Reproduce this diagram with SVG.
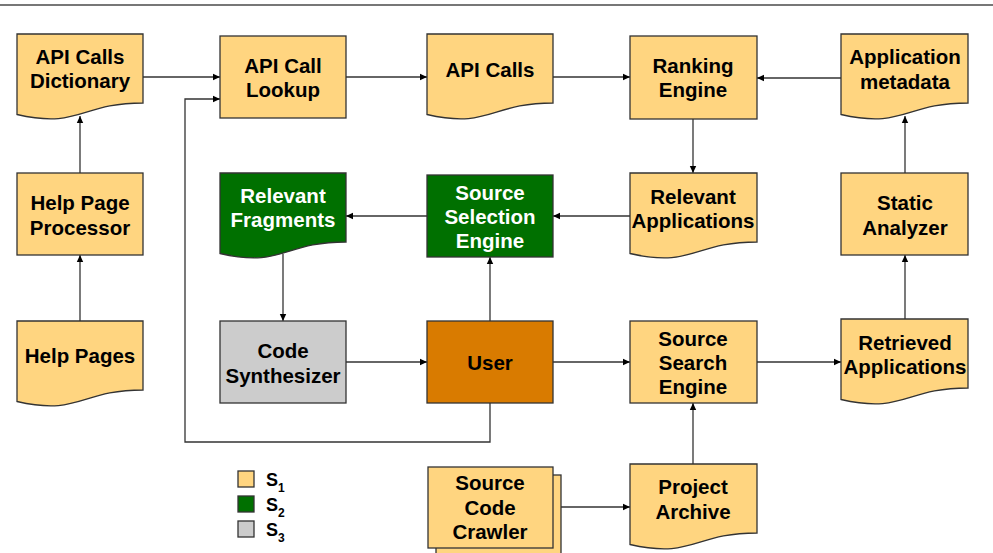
<svg xmlns="http://www.w3.org/2000/svg" width="993" height="553" viewBox="0 0 993 553">
<defs>
<marker id="ah" markerUnits="userSpaceOnUse" markerWidth="8" markerHeight="8" refX="7" refY="4" orient="auto">
<path d="M0,0.8 L7,4 L0,7.2 Z" fill="#000"/>
</marker>
</defs>
<style>
.y{fill:#FFD580;stroke:#333;stroke-width:1.3}
.g{fill:#007000;stroke:#333;stroke-width:1.3}
.o{fill:#D97B00;stroke:#333;stroke-width:1.3}
.s{fill:#CCCCCC;stroke:#333;stroke-width:1.3}
text{font-family:"Liberation Sans",Arial,sans-serif;font-weight:bold;font-size:20.5px;text-anchor:middle;fill:#000}
.w{fill:#fff}
.c{fill:none;stroke:#333;stroke-width:1.3;marker-end:url(#ah)}
.lg{text-anchor:start;font-size:18px}
.sub{font-size:12px}
</style>
<rect width="993" height="553" fill="#fff"/>
<line x1="0" y1="5" x2="993" y2="5" stroke="#777" stroke-width="2"/>

<g id="connectors">
<path class="c" d="M143,77 H220"/>
<path class="c" d="M490,403 V442 H185 V99 H220"/>
<path class="c" d="M80,173 V116"/>
<path class="c" d="M80,321 V255"/>
<path class="c" d="M346,77 H427"/>
<path class="c" d="M553,77 H630"/>
<path class="c" d="M841,78 H757"/>
<path class="c" d="M693,119 V173"/>
<path class="c" d="M630,216 H553"/>
<path class="c" d="M427,216 H346"/>
<path class="c" d="M283,254 V321"/>
<path class="c" d="M346,362 H427"/>
<path class="c" d="M490,321 V257"/>
<path class="c" d="M553,362 H630"/>
<path class="c" d="M757,362 H841"/>
<path class="c" d="M905,319 V255"/>
<path class="c" d="M905,173 V116"/>
<path class="c" d="M693,464 V403"/>
<path class="c" d="M553,507 H630"/>
</g>

<g id="api-calls-dictionary">
<path class="y" d="M17,34 H143 V103 C80,103 80,129 17,114.5 Z"/>
<text x="80" y="64">API Calls</text>
<text x="80" y="88">Dictionary</text>
</g>
<g id="api-call-lookup">
<rect class="y" x="220" y="36" width="126" height="82"/>
<text x="283" y="73">API Call</text>
<text x="283" y="97">Lookup</text>
</g>
<g id="api-calls">
<path class="y" d="M427,34 H553 V103 C490,103 490,129 427,114.5 Z"/>
<text x="490" y="77">API Calls</text>
</g>
<g id="ranking-engine">
<rect class="y" x="630" y="36" width="127" height="83"/>
<text x="693" y="73">Ranking</text>
<text x="693" y="97">Engine</text>
</g>
<g id="application-metadata">
<path class="y" d="M841,34 H968 V103 C904.5,103 904.5,129 841,114.5 Z"/>
<text x="905" y="64">Application</text>
<text x="905" y="89">metadata</text>
</g>
<g id="help-page-processor">
<rect class="y" x="17" y="173" width="126" height="82"/>
<text x="80" y="210">Help Page</text>
<text x="80" y="235">Processor</text>
</g>
<g id="relevant-fragments">
<path class="g" d="M220,173 H346 V242 C283,242 283,268 220,253.5 Z"/>
<text class="w" x="283" y="203">Relevant</text>
<text class="w" x="283" y="227">Fragments</text>
</g>
<g id="source-selection-engine">
<rect class="g" x="427" y="175" width="126" height="82"/>
<text class="w" x="490" y="200">Source</text>
<text class="w" x="490" y="224">Selection</text>
<text class="w" x="490" y="248">Engine</text>
</g>
<g id="relevant-applications">
<path class="y" d="M630,173 H757 V242 C693.5,242 693.5,268 630,253.5 Z"/>
<text x="693" y="204">Relevant</text>
<text x="693" y="228">Applications</text>
</g>
<g id="static-analyzer">
<rect class="y" x="841" y="173" width="127" height="82"/>
<text x="905" y="210">Static</text>
<text x="905" y="235">Analyzer</text>
</g>
<g id="help-pages">
<path class="y" d="M17,321 H143 V390 C80,390 80,416 17,401.5 Z"/>
<text x="80" y="363">Help Pages</text>
</g>
<g id="code-synthesizer">
<rect class="s" x="220" y="321" width="126" height="82"/>
<text x="283" y="358">Code</text>
<text x="283" y="383">Synthesizer</text>
</g>
<g id="user">
<rect class="o" x="427" y="321" width="126" height="82"/>
<text x="490" y="370">User</text>
</g>
<g id="source-search-engine">
<rect class="y" x="630" y="321" width="127" height="82"/>
<text x="693" y="346">Source</text>
<text x="693" y="370">Search</text>
<text x="693" y="394">Engine</text>
</g>
<g id="retrieved-applications">
<path class="y" d="M841,319 H968 V388 C904.5,388 904.5,414 841,399.5 Z"/>
<text x="905" y="350">Retrieved</text>
<text x="905" y="374">Applications</text>
</g>
<g id="source-code-crawler">
<rect class="y" x="436" y="475" width="125" height="90"/>
<rect class="y" x="428" y="467" width="125" height="81"/>
<text x="490" y="490">Source</text>
<text x="490" y="515">Code</text>
<text x="490" y="539">Crawler</text>
</g>
<g id="project-archive">
<path class="y" d="M630,464 H757 V533 C693.5,533 693.5,559 630,544.5 Z"/>
<text x="693" y="494">Project</text>
<text x="693" y="519">Archive</text>
</g>

<g id="legend">
<rect class="y" x="238" y="471" width="16" height="16"/>
<rect class="g" x="238" y="496" width="16" height="16"/>
<rect class="s" x="238" y="521" width="16" height="16"/>
<text class="lg" x="266" y="486">S<tspan class="sub" dy="6">1</tspan></text>
<text class="lg" x="266" y="511">S<tspan class="sub" dy="6">2</tspan></text>
<text class="lg" x="266" y="536">S<tspan class="sub" dy="6">3</tspan></text>
</g>
</svg>
